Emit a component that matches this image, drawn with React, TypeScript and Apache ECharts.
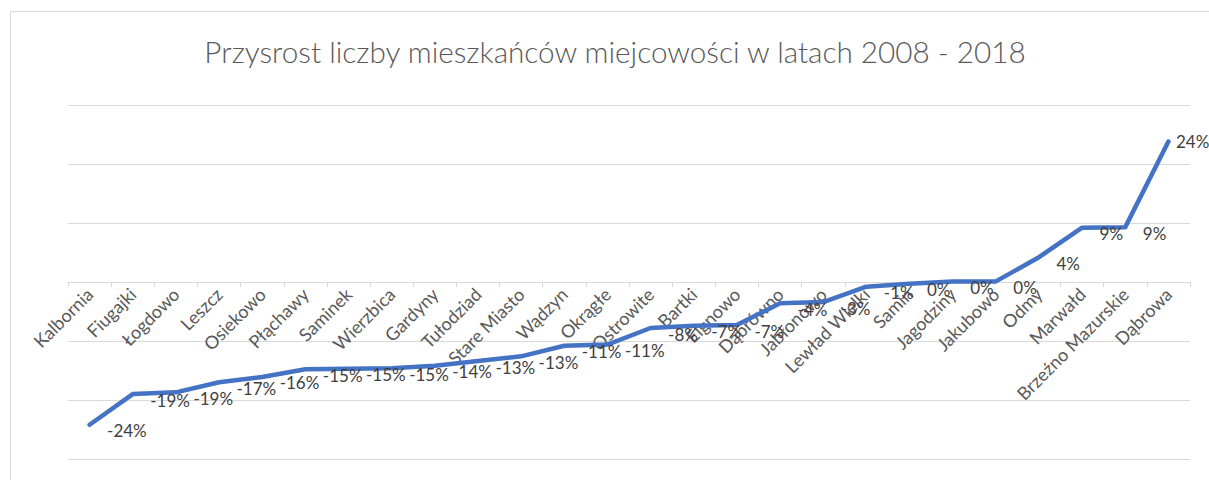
import React, { useEffect, useRef } from "react";
import * as echarts from "echarts";

const TITLE = "Przysrost liczby mieszkańców miejcowości w latach 2008 - 2018";

const categories = [
  "Kalbornia", "Fiugajki", "Łogdowo", "Leszcz", "Osiekowo", "Płąchawy", "Saminek",
  "Wierzbica", "Gardyny", "Tułodziad", "Stare Miasto", "Wądzyn", "Okrągłe", "Ostrowite",
  "Bartki", "Elgnowo", "Dąbrówno", "Jabłonowo", "Lewład Wielki", "Samin", "Jagodziny",
  "Jakubowo", "Odmy", "Marwałd", "Brzeźno Mazurskie", "Dąbrowa",
];

const growth = [
  -24.2, -19.0, -18.7, -17.0, -16.1, -14.8, -14.7, -14.6, -14.2, -13.4, -12.6, -10.8,
  -10.6, -7.8, -7.4, -7.3, -3.6, -3.4, -0.8, -0.3, 0.1, 0.1, 4.2, 9.2, 9.3, 23.8,
];

const yMin = -30;
const yMax = 30;
const yStep = 10;

export default function App() {
  const ref = useRef<HTMLDivElement>(null);
  useEffect(() => {
    document.body.style.margin = "0";
    const chart = echarts.init(ref.current!, null, { renderer: "svg" });
    const font = "Lato, 'Open Sans', sans-serif";
    const H = 480;
    const gridTop = 105;
    const gridBottom = 21;
    const plotH = H - gridTop - gridBottom;
    const zeroOffset = -(plotH * (0 - yMin)) / (yMax - yMin);
    const seriesData = growth.map((v, i) =>
      i === growth.length - 1
        ? { value: v, label: { distance: 7, offset: [0, 0] } }
        : { value: v }
    );
    chart.setOption({
      animation: false,
      backgroundColor: "#ffffff",
      textStyle: { fontFamily: font },
      title: {
        text: TITLE,
        left: 610,
        textAlign: "center",
        top: 31,
        textStyle: { fontFamily: font, fontSize: 29.7, fontWeight: 300, color: "#595959" },
      },
      graphic: [
        {
          type: "rect",
          shape: { x: 10.5, y: 11.5, width: 1240, height: 500 },
          style: { fill: "none", stroke: "#d9d9d9", lineWidth: 1 },
          silent: true,
        },
      ],
      grid: {
        left: 68,
        right: 19,
        top: gridTop,
        bottom: gridBottom,
        containLabel: false,
        outerBoundsMode: "none",
      },
      xAxis: {
        type: "category",
        data: categories,
        boundaryGap: true,
        position: "bottom",
        offset: zeroOffset,
        axisLine: { onZero: false, lineStyle: { color: "#d9d9d9", width: 1 } },
        axisTick: { show: true, alignWithLabel: false, length: 5, lineStyle: { color: "#d9d9d9" } },
        axisLabel: {
          interval: 0,
          rotate: 45,
          margin: 9,
          fontFamily: font,
          fontSize: 18,
          color: "#595959",
          hideOverlap: false,
        },
        splitLine: { show: false },
      },
      yAxis: {
        type: "value",
        min: yMin,
        max: yMax,
        interval: yStep,
        axisLine: { show: false },
        axisTick: { show: false },
        axisLabel: { show: false },
        splitLine: { show: true, lineStyle: { color: "#d9d9d9", width: 1 } },
      },
      series: [
        {
          type: "line",
          data: seriesData,
          symbol: "circle",
          symbolSize: 1,
          showSymbol: true,
          itemStyle: { color: "rgba(0,0,0,0)" },
          lineStyle: { color: "#4472C4", width: 4.5, cap: "round", join: "round" },
          label: {
            show: true,
            position: "right",
            distance: 17,
            offset: [0, 6],
            fontFamily: font,
            fontSize: 17,
            color: "#404040",
            formatter: (p: any) => `${Math.round(p.value)}%`,
          },
        },
      ],
    });
    return () => chart.dispose();
  }, []);
  return <div ref={ref} style={{ width: 1209, height: 480 }} />;
}
